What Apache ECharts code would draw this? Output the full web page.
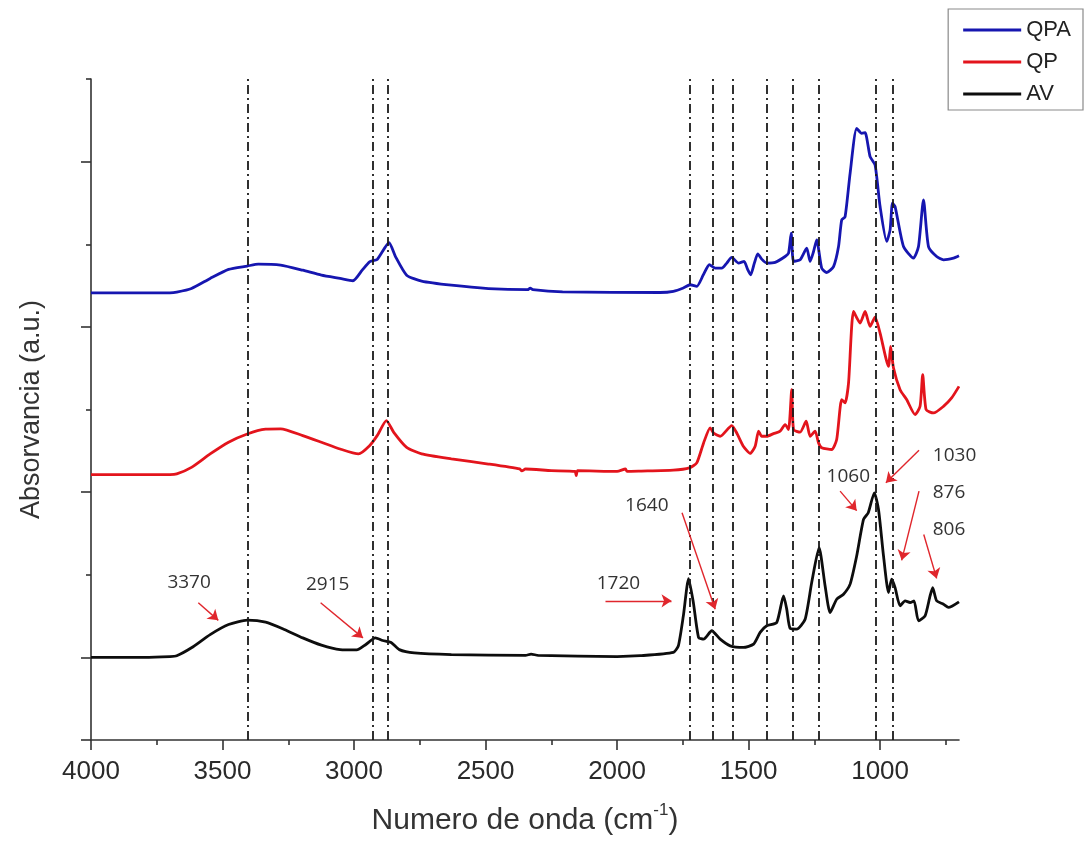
<!DOCTYPE html>
<html>
<head>
<meta charset="utf-8">
<title>FTIR QPA QP AV</title>
<script src="https://cdn.jsdelivr.net/npm/echarts@6/dist/echarts.min.js"></script>
<style>
    html, body {margin: 0; padding: 0; background: #fff;}
    #ftir-chart {width: 1085px; height: 841px;}
</style>
</head>
<body>
<div id="ftir-chart"></div>
<script>
// espectros: [numero de onda, absorbancia desplazada]
var qpaData = [[4000, 2.206], [3700, 2.206], [3674, 2.21], [3618, 2.232], [3547, 2.293], [3477, 2.348], [3406, 2.368],
    [3364, 2.38], [3279, 2.374], [3195, 2.343], [3124, 2.313], [3053, 2.293], [3004, 2.279], [2969, 2.343], [2941, 2.394],
    [2912, 2.408], [2867, 2.509], [2842, 2.424], [2800, 2.313], [2743, 2.277], [2630, 2.252], [2489, 2.232], [2340, 2.225],
    [2330, 2.235], [2320, 2.225], [2207, 2.212], [1836, 2.208], [1786, 2.215], [1748, 2.235], [1722, 2.255], [1697, 2.245],
    [1672, 2.315], [1649, 2.376], [1627, 2.355], [1602, 2.355], [1583, 2.386], [1564, 2.42], [1538, 2.386], [1517, 2.396],
    [1504, 2.349], [1492, 2.315], [1478, 2.386], [1465, 2.442], [1450, 2.41], [1431, 2.386], [1399, 2.39], [1361, 2.426],
    [1348, 2.446], [1338, 2.567], [1329, 2.396], [1304, 2.406], [1279, 2.476], [1266, 2.396], [1253, 2.456], [1241, 2.527],
    [1222, 2.355], [1203, 2.329], [1177, 2.365], [1158, 2.486], [1146, 2.647], [1133, 2.667], [1114, 2.929], [1089, 3.201],
    [1070, 3.171], [1057, 3.175], [1038, 3.03], [1019, 2.979], [1000, 2.728], [975, 2.517], [962, 2.587], [953, 2.748],
    [943, 2.728], [911, 2.486], [873, 2.416], [854, 2.486], [835, 2.768], [816, 2.486], [785, 2.426], [759, 2.406],
    [721, 2.416], [700, 2.43]];

var qpData = [[4000, 1.106], [3700, 1.106], [3674, 1.11], [3618, 1.15], [3547, 1.231], [3477, 1.302], [3406, 1.352],
    [3336, 1.381], [3279, 1.383], [3195, 1.342], [3124, 1.302], [3053, 1.261], [2983, 1.231], [2941, 1.281], [2912, 1.342],
    [2877, 1.433], [2849, 1.362], [2800, 1.271], [2743, 1.231], [2630, 1.201], [2489, 1.17], [2370, 1.14], [2362, 1.128],
    [2348, 1.14], [2250, 1.13], [2160, 1.125], [2155, 1.1], [2150, 1.13], [2000, 1.125], [1968, 1.14], [1962, 1.125],
    [1912, 1.127], [1786, 1.133], [1725, 1.147], [1697, 1.177], [1671, 1.298], [1646, 1.389], [1633, 1.358], [1608, 1.338],
    [1564, 1.403], [1545, 1.358], [1520, 1.278], [1494, 1.234], [1475, 1.278], [1462, 1.369], [1450, 1.338], [1431, 1.338],
    [1405, 1.354], [1380, 1.369], [1361, 1.409], [1348, 1.379], [1336, 1.62], [1329, 1.379], [1304, 1.363], [1281, 1.429],
    [1266, 1.338], [1247, 1.369], [1234, 1.298], [1222, 1.268], [1184, 1.258], [1165, 1.318], [1146, 1.56], [1133, 1.54],
    [1120, 1.66], [1101, 2.093], [1076, 2.023], [1057, 2.093], [1038, 2.003], [1019, 2.059], [1000, 1.962], [968, 1.761],
    [960, 1.882], [949, 1.751], [924, 1.62], [899, 1.56], [867, 1.469], [848, 1.519], [838, 1.711], [825, 1.499],
    [797, 1.479], [759, 1.519], [728, 1.57], [700, 1.64]];

var avData = [[4000, 0.0], [3800, 0.0], [3700, 0.005], [3674, 0.01], [3618, 0.058], [3547, 0.138], [3477, 0.199],
    [3406, 0.225], [3336, 0.213], [3265, 0.169], [3195, 0.118], [3124, 0.074], [3053, 0.047], [2990, 0.045], [2955, 0.078],
    [2919, 0.118], [2891, 0.102], [2859, 0.09], [2828, 0.047], [2771, 0.027], [2630, 0.017], [2348, 0.012], [2327, 0.02],
    [2300, 0.012], [2000, 0.005], [1912, 0.01], [1786, 0.03], [1767, 0.07], [1748, 0.251], [1728, 0.477], [1710, 0.332],
    [1690, 0.12], [1671, 0.11], [1640, 0.161], [1608, 0.11], [1570, 0.07], [1520, 0.06], [1481, 0.08], [1456, 0.151],
    [1431, 0.191], [1393, 0.211], [1367, 0.372], [1355, 0.292], [1342, 0.175], [1317, 0.171], [1285, 0.231], [1260, 0.453],
    [1232, 0.664], [1209, 0.432], [1190, 0.271], [1165, 0.352], [1139, 0.382], [1114, 0.443], [1089, 0.614], [1063, 0.835],
    [1045, 0.875], [1022, 0.996], [1006, 0.895], [987, 0.614], [968, 0.392], [956, 0.473], [943, 0.422], [924, 0.312],
    [905, 0.342], [886, 0.332], [871, 0.342], [854, 0.221], [829, 0.251], [810, 0.372], [800, 0.422], [785, 0.342],
    [759, 0.322], [740, 0.302], [700, 0.336]];

// lineas de referencia (dash-dot) en numero de onda
var bandLines = [3405, 2928, 2870, 1725, 1636, 1560, 1431, 1332, 1234, 1015, 953];

// ejes
var xMajorTicks = [1000, 1500, 2000, 2500, 3000, 3500, 4000];
var xMinorTicks = [750, 1250, 1750, 2250, 2750, 3250, 3750];
var yMajorTicks = [-0.5, 0, 1, 2, 3];
var yMinorTicks = [0.5, 1.5, 2.5, 3.5];

// anotaciones (texto y flechas rojas) en coordenadas de datos
var annotLabels = ['3370', '2915', '1720', '1640', '1060', '1030', '876', '806'];
var annotTextAt = [[3627, 0.452], [3100, 0.442], [1995, 0.448], [1887, 0.919], [1121, 1.096], [717, 1.221], [738, 1.0], [738, 0.774]];
var arrowFrom = [[3592, 0.331], [3127, 0.331], [2044, 0.342], [1753, 0.875], [1152, 1.006], [852, 1.253], [852, 1.006], [834, 0.744]];
var arrowTo = [[3516, 0.224], [2966, 0.118], [1793, 0.342], [1627, 0.291], [1089, 0.888], [978, 1.056], [918, 0.587], [785, 0.478]];

var axisFont = 'Liberation Sans, Arial, sans-serif';

function $each(arr, func) {
    for (var i = 0; i < arr.length; i++) {
        func(arr[i], i);
    }
}

var buildMarkLines = function () {
    var items = [];
    $each(bandLines, function (v) {
        items.push({xAxis: v});
    });
    $each(arrowFrom, function (from, i) {
        items.push([
            {coord: from, symbol: 'none', lineStyle: {color: '#e0262c', width: 1.4, type: 'solid'}},
            {coord: arrowTo[i], symbol: 'arrow'}
        ]);
    });
    return items;
};

var buildMarkPoints = function () {
    var items = [];
    $each(annotLabels, function (txt, i) {
        items.push({name: txt, coord: annotTextAt[i]});
    });
    return items;
};

var makeXAxis = function (ticks, len, showLine, showLabel) {
    return {
        type: 'value',
        min: 700,
        max: 4000,
        inverse: true,
        position: 'bottom',
        offset: 0,
        name: showLabel ? '{a|Numero de onda (cm}{s|-1}{a|)}' : '',
        nameLocation: 'middle',
        nameGap: 62,
        nameTextStyle: {
            rich: {
                a: {fontSize: 30, fontFamily: axisFont, color: '#333', lineHeight: 34, verticalAlign: 'bottom'},
                s: {fontSize: 17, fontFamily: axisFont, color: '#333', lineHeight: 34, verticalAlign: 'top'}
            }
        },
        axisLine: {show: showLine, onZero: false, lineStyle: {color: '#333', width: 1.6}},
        axisTick: {show: true, customValues: ticks, length: len, lineStyle: {color: '#333', width: 1.6}},
        axisLabel: {
            show: showLabel,
            customValues: ticks,
            formatter: function (v) {
                return String(v);
            },
            fontSize: 26,
            fontFamily: axisFont,
            color: '#2a2a2a',
            margin: 19
        },
        splitLine: {show: false}
    };
};

var makeYAxis = function (ticks, len, showLine, showName) {
    return {
        type: 'value',
        min: -0.5,
        max: 3.5,
        position: 'left',
        offset: 0,
        name: showName ? 'Absorvancia (a.u.)' : '',
        nameLocation: 'middle',
        nameGap: 46,
        nameTextStyle: {fontSize: 27, fontFamily: axisFont, color: '#333'},
        axisLine: {show: showLine, onZero: false, lineStyle: {color: '#333', width: 1.6}},
        axisTick: {show: true, customValues: ticks, length: len, lineStyle: {color: '#333', width: 1.6}},
        axisLabel: {show: false},
        splitLine: {show: false}
    };
};

var drawFtir = function () {
    var myChart = echarts.init(document.getElementById('ftir-chart'), null, {renderer: 'canvas'});
    var option = {
        animation: false,
        backgroundColor: '#fff',
        grid: {left: 91, right: 126, top: 79, bottom: 100, containLabel: false},
        legend: {
            data: ['QPA', 'QP', 'AV'],
            orient: 'vertical',
            right: 2,
            top: 9,
            icon: 'rect',
            itemWidth: 58,
            itemHeight: 3,
            itemGap: 8,
            padding: [9, 12, 4, 15],
            borderColor: '#8a8a8a',
            borderWidth: 1.2,
            borderRadius: 0,
            textStyle: {fontSize: 22, fontFamily: axisFont, color: '#222', lineHeight: 24}
        },
        xAxis: [
            makeXAxis(xMajorTicks, 10, true, true),
            makeXAxis(xMinorTicks, 5, false, false)
        ],
        yAxis: [
            makeYAxis(yMajorTicks, 10, true, true),
            makeYAxis(yMinorTicks, 5, false, false)
        ],
        series: [
            {
                name: 'QPA',
                type: 'line',
                data: qpaData,
                showSymbol: false,
                smooth: 0.2,
                color: '#1616b0',
                lineStyle: {width: 2.8, color: '#1616b0'}
            },
            {
                name: 'QP',
                type: 'line',
                data: qpData,
                showSymbol: false,
                smooth: 0.2,
                color: '#e3141c',
                lineStyle: {width: 2.8, color: '#e3141c'}
            },
            {
                name: 'AV',
                type: 'line',
                data: avData,
                showSymbol: false,
                smooth: 0.2,
                color: '#0d0d0d',
                lineStyle: {width: 2.8, color: '#0d0d0d'},
                markLine: {
                    silent: true,
                    animation: false,
                    symbol: ['none', 'none'],
                    symbolSize: 10,
                    label: {show: false},
                    emphasis: {disabled: true},
                    lineStyle: {color: '#1a1a1a', width: 1.8, type: [9, 4, 2, 4]},
                    data: buildMarkLines()
                },
                markPoint: {
                    silent: true,
                    animation: false,
                    symbol: 'rect',
                    symbolSize: 1,
                    itemStyle: {color: 'rgba(0,0,0,0)'},
                    label: {
                        show: true,
                        position: 'inside',
                        formatter: '{b}',
                        fontSize: 19,
                        fontFamily: 'Open Sans, sans-serif',
                        color: '#333'
                    },
                    data: buildMarkPoints()
                }
            }
        ]
    };
    myChart.setOption(option);
};

drawFtir();
</script>
</body>
</html>
